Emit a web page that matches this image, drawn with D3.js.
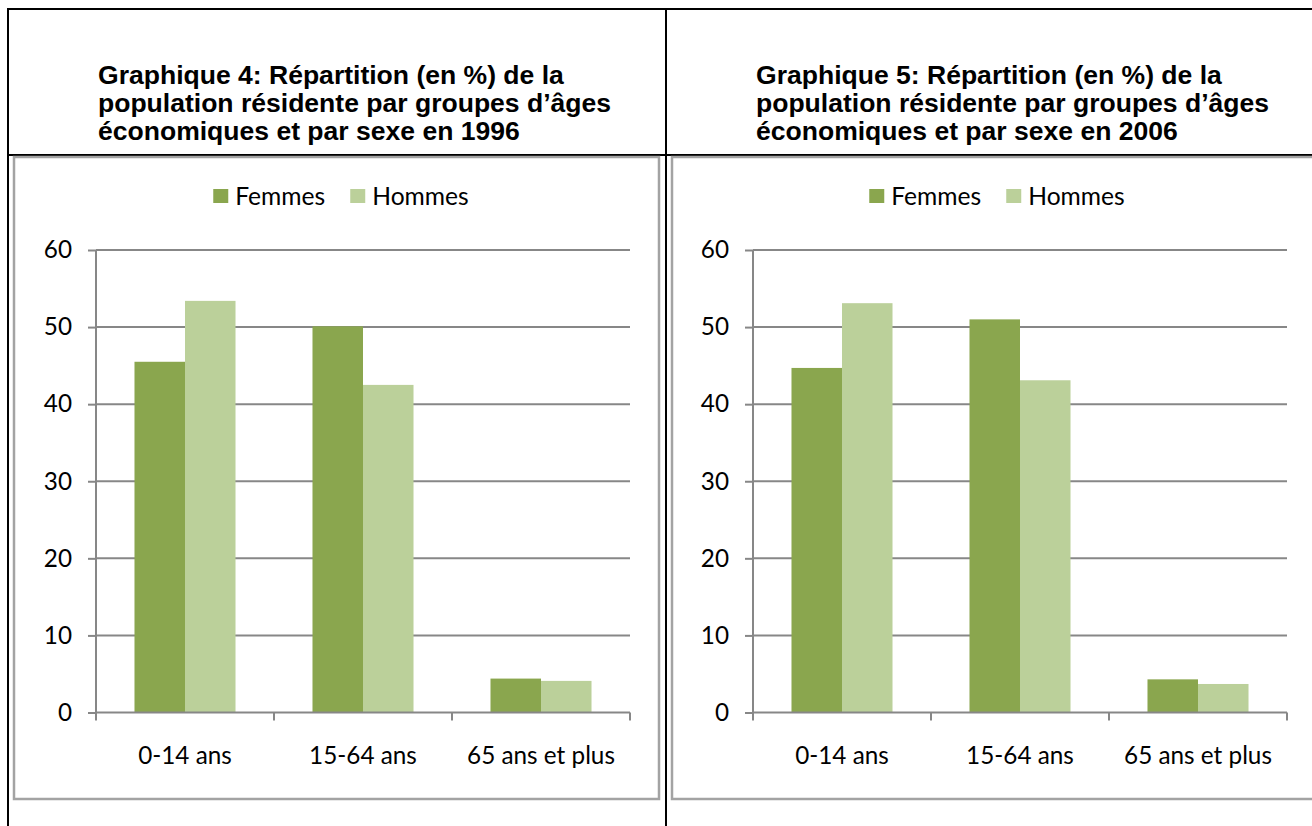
<!DOCTYPE html>
<html>
<head>
<meta charset="utf-8">
<script src="https://cdn.jsdelivr.net/npm/d3@7"></script>
<style>
  html, body { margin: 0; padding: 0; background: #fff; }
  svg { display: block; }
</style>
</head>
<body>
<svg id="chart" width="1312" height="826"></svg>
<script>
// ---- Data ----
const categories = ["0-14 ans", "15-64 ans", "65 ans et plus"];
const series = ["Femmes", "Hommes"];
const femmes1996 = [45.5, 50.1, 4.4];
const hommes1996 = [53.4, 42.5, 4.1];
const femmes2006 = [44.7, 51.0, 4.3];
const hommes2006 = [53.1, 43.1, 3.7];
const yTicks = [0, 10, 20, 30, 40, 50, 60];
const title1996 = ["Graphique 4: Répartition (en %) de la",
                   "population résidente par groupes d’âges",
                   "économiques et par sexe en 1996"];
const title2006 = ["Graphique 5: Répartition (en %) de la",
                   "population résidente par groupes d’âges",
                   "économiques et par sexe en 2006"];

// ---- Styles ----
const colors = { "Femmes": "#8aa64e", "Hommes": "#bbd09a" };
const gridColor = "#878787";
const labelFont = "Lato, 'Open Sans', sans-serif";
const titleFont = "'Liberation Sans', Arial, sans-serif";

const svg = d3.select("#chart");

// helper to fit font size to a target width
function fitSize(text, family, weight, base, target) {
  const t = svg.append("text").attr("font-family", family).attr("font-weight", weight)
    .attr("font-size", base).text(text);
  const w = t.node().getComputedTextLength();
  t.remove();
  return base * target / w;
}
const titleSize = fitSize(title1996[0], titleFont, "bold", 20, 466);
const catSize = fitSize("65 ans et plus", labelFont, "normal", 20, 148);
const legSize = fitSize("Femmes", labelFont, "normal", 20, 90);

// ---- Table lines ----
const table = svg.append("g").attr("stroke", "#000").attr("stroke-width", 2);
table.append("line").attr("x1", 7).attr("x2", 1312).attr("y1", 9).attr("y2", 9);
table.append("line").attr("x1", 8).attr("x2", 8).attr("y1", 8).attr("y2", 826);
table.append("line").attr("x1", 666).attr("x2", 666).attr("y1", 8).attr("y2", 826);
table.append("line").attr("x1", 7).attr("x2", 1312).attr("y1", 155).attr("y2", 155);

function drawPanel(opts) {
  const g = svg.append("g");
  // title
  opts.title.forEach((line, i) => {
    g.append("text")
      .attr("x", opts.titleX).attr("y", 84 + i * 28)
      .attr("font-family", titleFont).attr("font-weight", "bold")
      .attr("font-size", titleSize).attr("fill", "#000").text(line);
  });
  // chart area box
  g.append("rect").attr("x", opts.boxX).attr("y", 157).attr("width", opts.boxW).attr("height", 642)
    .attr("fill", "#fff").attr("stroke", "#a3a3a3").attr("stroke-width", 2.5);

  const x0 = d3.scaleBand().domain(categories).range([opts.plotL, opts.plotR]).padding(0);
  const x1 = d3.scaleBand().domain(series).range([0, x0.bandwidth()]).paddingInner(0).paddingOuter(0.762);
  const y = d3.scaleLinear().domain([0, 60]).range([712.5, 250]);

  // gridlines
  g.append("g").selectAll("line").data(yTicks.filter(d => d > 0)).join("line")
    .attr("x1", opts.plotL).attr("x2", opts.plotR)
    .attr("y1", d => y(d)).attr("y2", d => y(d))
    .attr("stroke", gridColor).attr("stroke-width", 2);

  // bars
  const rows = categories.map((c, i) => ({ cat: c, Femmes: opts.f[i], Hommes: opts.h[i] }));
  g.append("g").selectAll("g").data(rows).join("g")
    .attr("transform", d => `translate(${x0(d.cat)},0)`)
    .selectAll("rect").data(d => series.map(s => ({ s, v: d[s] }))).join("rect")
    .attr("x", d => x1(d.s)).attr("width", x1.bandwidth())
    .attr("y", d => y(d.v)).attr("height", d => y(0) - y(d.v))
    .attr("fill", d => colors[d.s]);

  // y axis
  const ya = g.append("g").attr("transform", `translate(${opts.plotL},0)`)
    .call(d3.axisLeft(y).tickValues(yTicks).tickSize(8).tickPadding(16).tickFormat(d3.format("d")));
  ya.select(".domain").attr("stroke", gridColor).attr("stroke-width", 2).attr("d", `M0,${y(60)}V${y(0)}`);
  ya.selectAll(".tick line").attr("stroke", gridColor).attr("stroke-width", 2);
  ya.selectAll(".tick text").attr("font-family", labelFont).attr("font-size", catSize).attr("fill", "#000");

  // x axis
  const xa = g.append("g").attr("transform", `translate(0,${y(0)})`)
    .call(d3.axisBottom(x0).tickSize(0).tickPadding(34));
  xa.select(".domain").attr("stroke", gridColor).attr("stroke-width", 2)
    .attr("d", `M${opts.plotL},0H${opts.plotR}`);
  xa.selectAll(".tick text").attr("font-family", labelFont).attr("font-size", catSize).attr("fill", "#000");
  const bounds = categories.map(c => x0(c)).concat([x0(categories[categories.length - 1]) + x0.bandwidth()]);
  xa.append("g").selectAll("line").data(bounds).join("line")
    .attr("x1", d => d).attr("x2", d => d).attr("y1", 0).attr("y2", 8)
    .attr("stroke", gridColor).attr("stroke-width", 2);

  // legend
  const lg = g.append("g");
  const items = [];
  series.forEach(s => {
    const it = lg.append("g");
    it.append("rect").attr("width", 15).attr("height", 14).attr("y", -7).attr("fill", colors[s]);
    it.append("text").attr("x", 22).attr("dy", "0.35em").attr("font-family", labelFont)
      .attr("font-size", legSize).attr("fill", "#000").text(s);
    items.push(it);
  });
  let cx = 0;
  items.forEach((it, i) => {
    it.attr("transform", `translate(${cx},0)`);
    cx += it.node().getBBox().width + 25;
  });
  const totalW = cx - 25;
  lg.attr("transform", `translate(${opts.legendCX - totalW / 2},196)`);
}

drawPanel({ title: title1996, titleX: 98, boxX: 14, boxW: 645, plotL: 96, plotR: 630,
            f: femmes1996, h: hommes1996, legendCX: 341 });
drawPanel({ title: title2006, titleX: 756, boxX: 672, boxW: 650, plotL: 753, plotR: 1287,
            f: femmes2006, h: hommes2006, legendCX: 997 });
</script>
</body>
</html>
